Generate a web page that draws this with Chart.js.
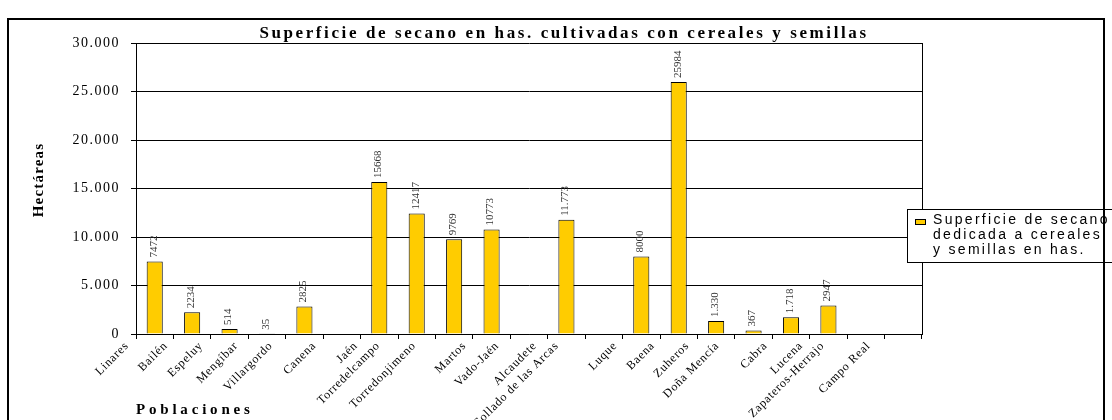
<!DOCTYPE html>
<html>
<head>
<meta charset="utf-8">
<script src="https://cdn.jsdelivr.net/npm/chart.js"></script>
</head>
<body style="margin:0;padding:0;background:#fff;">
<canvas id="secano" width="1112" height="420"></canvas>
<script>
  // datos
  const poblaciones = ['Linares', 'Bailén', 'Espeluy', 'Mengíbar', 'Villargordo', 'Canena', 'Jaén',
    'Torredelcampo', 'Torredonjimeno', 'Martos', 'Vado-Jaén', 'Alcaudete', 'Collado de las Arcas',
    'Luque', 'Baena', 'Zuheros', 'Doña Mencía', 'Cabra', 'Lucena', 'Zapateros-Herrajo', 'Campo Real'];
  const hectareas = [7472, 2234, 514, 35, 2825, null, 15668, 12417, 9769, 10773, null, 11773, null,
    8000, 25984, 1330, 367, 1718, 2947, null, null];
  const rotulos = ['7472', '2234', '514', '35', '2825', '', '15668', '12417', '9769', '10773', '', '11.773', '',
    '8000', '25984', '1.330', '367', '1.718', '2947', '', ''];
  const titulo = 'Superficie de secano en has. cultivadas con cereales y semillas';
  const leyenda = ['Superficie de secano', 'dedicada a cereales', 'y semillas en has.'];
  const tituloY = 'Hectáreas';
  const tituloX = 'Poblaciones';

  const SERIF = '"Liberation Serif", "Times New Roman", serif';
  const SANS = '"Liberation Sans", Arial, sans-serif';
  const AMARILLO = '#FFCC00';

  const extras = {
    id: 'extras',
    beforeDraw(chart) {
      chart.ctx.letterSpacing = '1.5px';
    },
    afterDatasetsDraw(chart) {
      const ctx = chart.ctx;
      const meta = chart.getDatasetMeta(0);
      ctx.save();
      ctx.letterSpacing = '0px';
      ctx.font = '11px ' + SERIF;
      ctx.fillStyle = '#333';
      ctx.textAlign = 'left';
      ctx.textBaseline = 'middle';
      meta.data.forEach((bar, i) => {
        if (hectareas[i] === null) return;
        ctx.save();
        ctx.translate(bar.x - 1, bar.y - 4);
        ctx.rotate(-Math.PI / 2);
        ctx.fillText(rotulos[i], 0, 0);
        ctx.restore();
      });
      ctx.restore();
    },
    afterDraw(chart) {
      const ctx = chart.ctx;
      const area = chart.chartArea;
      const xs = chart.scales.x;
      ctx.save();

      // borde derecho del area
      ctx.strokeStyle = '#000';
      ctx.lineWidth = 1;
      ctx.beginPath();
      ctx.moveTo(Math.round(area.right) + 0.5, area.top);
      ctx.lineTo(Math.round(area.right) + 0.5, area.bottom);
      ctx.stroke();

      // etiquetas de poblaciones
      ctx.font = '12px ' + SERIF;
      ctx.letterSpacing = '0.8px';
      ctx.fillStyle = '#000';
      ctx.textAlign = 'right';
      ctx.textBaseline = 'middle';
      poblaciones.forEach((p, i) => {
        const w = ctx.measureText(p).width;
        ctx.save();
        ctx.translate(xs.getPixelForValue(i) - 17 - 0.26 * w, xs.top + 10);
        ctx.rotate(-Math.PI / 4);
        ctx.fillText(p, 0, 0);
        ctx.restore();
      });

      // titulo
      ctx.font = 'bold 17px ' + SERIF;
      ctx.letterSpacing = '2.6px';
      ctx.textAlign = 'center';
      ctx.textBaseline = 'alphabetic';
      ctx.fillText(titulo, 564, 38);

      // titulo eje y
      ctx.font = 'bold 15px ' + SERIF;
      ctx.letterSpacing = '1.2px';
      ctx.save();
      ctx.translate(39, 180);
      ctx.rotate(-Math.PI / 2);
      ctx.textBaseline = 'middle';
      ctx.fillText(tituloY, 0, 0);
      ctx.restore();

      // titulo eje x
      ctx.letterSpacing = '3.8px';
      ctx.textAlign = 'left';
      ctx.fillText(tituloX, area.left, 414);

      // leyenda
      ctx.fillStyle = '#fff';
      ctx.fillRect(907.5, 209.5, 230, 53);
      ctx.strokeRect(907.5, 209.5, 230, 53);
      ctx.fillStyle = AMARILLO;
      ctx.fillRect(915.5, 219.5, 10, 5);
      ctx.strokeRect(915.5, 219.5, 10, 5);
      ctx.fillStyle = '#000';
      ctx.font = '14px ' + SANS;
      ctx.letterSpacing = '2.3px';
      leyenda.forEach((l, i) => ctx.fillText(l, 933, 224 + i * 15));

      // marco exterior
      ctx.lineWidth = 2;
      ctx.strokeRect(8, 19, 1096, 440);
      ctx.restore();
    }
  };

  const ctx = document.getElementById('secano');
  const chart = new Chart(ctx, {
    type: 'bar',
    data: {
      labels: poblaciones,
      datasets: [{
        label: leyenda.join(' '),
        data: hectareas,
        backgroundColor: AMARILLO,
        borderColor: '#000',
        borderWidth: 1,
        barPercentage: 0.43,
        categoryPercentage: 1
      }]
    },
    options: {
      responsive: false,
      animation: false,
      layout: { padding: { top: 43, right: 190, bottom: 0, left: 0 } },
      plugins: {
        legend: { display: false },
        title: { display: false },
        tooltip: { enabled: false }
      },
      scales: {
        x: {
          afterFit: (s) => { s.height = 86; },
          ticks: { display: false, autoSkip: false },
          grid: { offset: true, drawOnChartArea: false, drawTicks: true, tickLength: 5, color: '#000' },
          border: { color: '#000' }
        },
        y: {
          min: 0,
          max: 30000,
          afterFit: (s) => { s.width = 136; },
          ticks: {
            stepSize: 5000,
            padding: 11,
            color: '#000',
            font: { family: SERIF, size: 14 },
            callback: (v) => String(v).replace(/\B(?=(\d{3})+(?!\d))/g, '.')
          },
          grid: { color: '#000', tickLength: 5 },
          border: { color: '#000' }
        }
      }
    },
    plugins: [extras]
  });
</script>
</body>
</html>
